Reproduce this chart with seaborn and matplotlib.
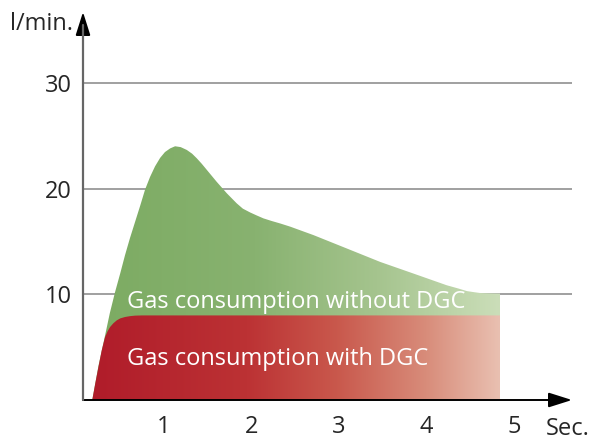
import numpy as np
import pandas as pd
import matplotlib
matplotlib.use("Agg")
import matplotlib.pyplot as plt
from matplotlib.colors import LinearSegmentedColormap
from matplotlib.patches import Polygon
import seaborn as sns

# Gas flow without DGC (l/min over seconds)
x_without = [0.18, 0.25, 0.326, 0.38, 0.44, 0.50, 0.554, 0.61, 0.669, 0.73,
             0.783, 0.84, 0.897, 0.955, 1.01, 1.07, 1.126, 1.19, 1.26, 1.32,
             1.374, 1.43, 1.49, 1.60, 1.717, 1.83, 1.90, 1.983, 2.06, 2.135,
             2.23, 2.326, 2.44, 2.706, 3.088, 3.469, 3.849, 4.23, 4.36, 4.46,
             4.54, 4.61, 4.72, 4.84]
y_without = [0.0, 3.2, 6.1, 8.2, 10.2, 12.0, 13.7, 15.3, 16.85, 18.45,
             19.9, 21.1, 22.1, 22.9, 23.45, 23.8, 24.0, 23.92, 23.65, 23.3,
             22.86, 22.35, 21.75, 20.65, 19.55, 18.6, 18.1, 17.74, 17.45, 17.18,
             16.93, 16.7, 16.4, 15.6, 14.33, 13.06, 11.96, 10.85, 10.55, 10.3,
             10.2, 10.12, 10.09, 10.07]

# Gas flow with DGC (l/min over seconds)
x_with = [0.18, 0.215, 0.25, 0.288, 0.326, 0.355, 0.383, 0.42, 0.459, 0.50,
          0.554, 0.61, 0.669, 0.75, 4.84]
y_with = [0.0, 1.6, 3.1, 4.7, 5.95, 6.5, 6.9, 7.25, 7.53, 7.72,
          7.85, 7.93, 7.98, 8.0, 8.0]

x_ticks = [1, 2, 3, 4, 5]
y_ticks = [10, 20, 30]
x_label = "Sec."
y_label = "l/min."
label_without = "Gas consumption without DGC"
label_with = "Gas consumption with DGC"

sns.set_style("white")
plt.rcParams["font.family"] = ["Open Sans", "DejaVu Sans"]

W, H = 591, 441
fig = plt.figure(figsize=(W / 100, H / 100), dpi=100)
ax = fig.add_axes([83 / W, 41 / H, (572 - 83) / W, (429 - 41) / H])
xmin, xmax = 0.074, 5.66
ymin, ymax = 0.0, 36.7
ax.set_xlim(xmin, xmax)
ax.set_ylim(ymin, ymax)

# horizontal grid lines behind the areas
for yt in y_ticks:
    ax.axhline(yt, color="#a0a0a0", lw=1.4, zorder=0)

df_without = pd.DataFrame({"t": x_without, "flow": y_without})
df_with = pd.DataFrame({"t": x_with, "flow": y_with})
sns.lineplot(data=df_without, x="t", y="flow", ax=ax, lw=0, sort=False)
sns.lineplot(data=df_with, x="t", y="flow", ax=ax, lw=0, sort=False)

green = LinearSegmentedColormap.from_list("green_fade", [
    (0.0, (124/255, 171/255, 98/255)),
    (0.40, (136/255, 178/255, 112/255)),
    (0.70, (165/255, 196/255, 142/255)),
    (1.0, (203/255, 222/255, 185/255)),
])
red = LinearSegmentedColormap.from_list("red_fade", [
    (0.0, (176/255, 28/255, 42/255)),
    (0.38, (188/255, 50/255, 52/255)),
    (0.60, (201/255, 88/255, 76/255)),
    (0.82, (216/255, 140/255, 122/255)),
    (1.0, (233/255, 192/255, 177/255)),
])


def gradient_area(xs, ys, cmap, z):
    verts = list(zip(xs, ys)) + [(xs[-1], 0.0), (xs[0], 0.0)]
    poly = Polygon(verts, closed=True, facecolor="none", edgecolor="none")
    ax.add_patch(poly)
    grad = np.linspace(0, 1, 256).reshape(1, -1)
    im = ax.imshow(grad, cmap=cmap, aspect="auto",
                   extent=[xs[0], xs[-1], 0, max(ys)], origin="lower",
                   zorder=z, interpolation="bicubic")
    im.set_clip_path(poly)


gradient_area(x_without, y_without, green, 1)
gradient_area(x_with, y_with, red, 2)
ax.set_xlim(xmin, xmax)
ax.set_ylim(ymin, ymax)

ax.text(0.575, 9.3, label_without, color="white", fontsize=17,
        va="center", ha="left", zorder=3)
ax.text(0.575, 3.9, label_with, color="white", fontsize=17,
        va="center", ha="left", zorder=3)

# axes with arrow heads
for s in ax.spines.values():
    s.set_visible(False)
head = "-|>,head_length=0.95,head_width=0.3"
ax.annotate("", xy=(xmin, ymax), xytext=(xmin, 0), annotation_clip=False,
            arrowprops=dict(arrowstyle=head, color="black", lw=1.4,
                            shrinkA=0, shrinkB=0, mutation_scale=15),
            zorder=4)
ax.annotate("", xy=(xmax, 0), xytext=(xmin, 0), annotation_clip=False,
            arrowprops=dict(arrowstyle=head, color="black", lw=1.4,
                            shrinkA=0, shrinkB=0, mutation_scale=15),
            zorder=4)
ax.plot([xmin, xmin], [0, ymax - 1.2], color="#666666", lw=1.6, zorder=4,
        clip_on=False)

ax.set_xticks(x_ticks)
ax.set_yticks(y_ticks)
ax.set_xticklabels([str(v) for v in x_ticks], fontsize=17)
ax.set_yticklabels([str(v) for v in y_ticks], fontsize=17)
ax.tick_params(axis="both", length=0)
ax.tick_params(axis="x", pad=11)
ax.tick_params(axis="y", pad=8)
ax.set_xlabel("")
ax.set_ylabel("")

fig.text(546 / W, 1 - 429 / H, x_label, fontsize=17, va="center", ha="left")
fig.text(73 / W, 1 - 24 / H, y_label, fontsize=17, va="center", ha="right")

fig.savefig("out.png", dpi=100)
